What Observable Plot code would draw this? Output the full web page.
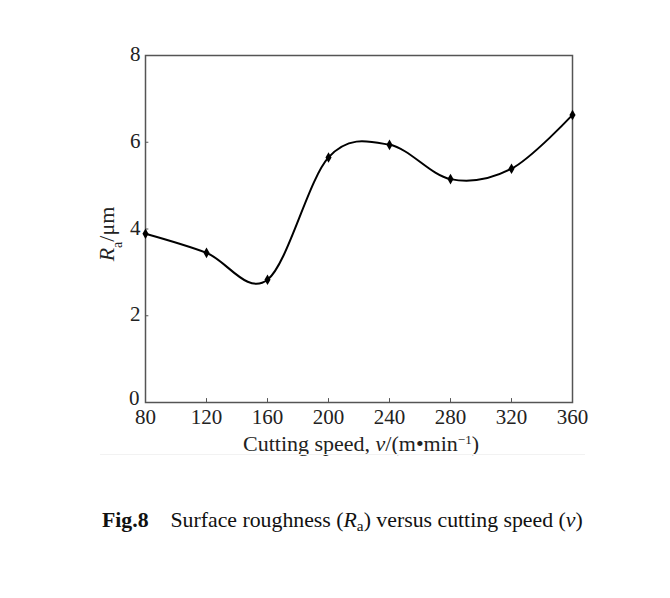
<!DOCTYPE html>
<html>
<head>
<meta charset="utf-8">
<script src="https://cdn.jsdelivr.net/npm/d3@7"></script>
<script src="https://cdn.jsdelivr.net/npm/@observablehq/plot@0.6"></script>
<style>
  html, body { margin: 0; padding: 0; background: #fff; width: 670px; height: 598px; overflow: hidden; }
  #wrap { position: relative; width: 670px; height: 598px; }
  #chart { position: absolute; left: 0; top: 0; }
  #sep { position: absolute; left: 100px; top: 454px; width: 485px; height: 1px; background: #f2f2f2; }
  #caption { position: absolute; left: 102px; top: 508px; font-family: "Liberation Serif", "Times New Roman", serif; font-size: 21.8px; color: #111; white-space: pre; }
  #caption sub { font-size: 0.7em; vertical-align: -0.25em; line-height: 0; }
</style>
</head>
<body>
<div id="wrap">
  <div id="chart"></div>
  <div id="sep"></div>
  <div id="caption"><b>Fig.8</b>    Surface roughness (<i>R</i><sub>a</sub>) versus cutting speed (<i>v</i>)</div>
</div>
<script>
const speeds = [80, 120, 160, 200, 240, 280, 320, 360];
const roughness = [3.89, 3.45, 2.83, 5.65, 5.94, 5.15, 5.39, 6.63];
const xTicks = [80, 120, 160, 200, 240, 280, 320, 360];
const yTicks = [0, 2, 4, 6, 8];

const data = speeds.map((v, i) => ({v, ra: roughness[i]}));

const font = '"Liberation Serif", "Times New Roman", serif';

const plot = Plot.plot({
  width: 670,
  height: 470,
  marginLeft: 145,
  marginRight: 98,
  marginTop: 55,
  marginBottom: 68,
  style: { fontFamily: font, fontSize: "21px", color: "#222", background: "transparent" },
  x: { domain: [80, 360] },
  y: { domain: [0, 8] },
  marks: [
    Plot.frame({ stroke: "#555", strokeWidth: 1.5 }),
    Plot.axisX({ ticks: xTicks, tickSize: 0, tickPadding: 7, label: null, fontSize: 21 }),
    Plot.axisY({ ticks: yTicks.slice(1), tickSize: 0, tickPadding: 5, label: null, fontSize: 21, dy: -1 }),
    Plot.axisY({ ticks: yTicks.slice(0, 1), tickSize: 0, tickPadding: 6, label: null, fontSize: 21, dy: -4 }),
    Plot.ruleX(xTicks.slice(1, -1), { y1: 0, y2: 0.09, stroke: "#555", strokeWidth: 1 }),
    Plot.ruleY(yTicks.slice(1, -1), { x1: 80, x2: 82.2, stroke: "#555", strokeWidth: 1 }),
    Plot.line(data, { x: "v", y: "ra", curve: "cardinal", stroke: "#000", strokeWidth: 2 }),
    Plot.dot(data, { x: "v", y: "ra", symbol: "diamond", r: 3.2, fill: "#000", stroke: "none" })
  ]
});

document.getElementById("chart").appendChild(plot);

const svg = d3.select(plot);
// x-axis title
const xl = svg.append("text")
  .attr("x", 361).attr("y", 451)
  .attr("text-anchor", "middle")
  .style("font-family", font).style("font-size", "22px").attr("fill", "#222");
xl.append("tspan").text("Cutting speed, ");
xl.append("tspan").style("font-style", "italic").text("v");
xl.append("tspan").text("/(m\u2022min");
xl.append("tspan").attr("baseline-shift", "super").style("font-size", "13px").text("\u22121");
xl.append("tspan").text(")");

// y-axis title
const yl = svg.append("text")
  .attr("transform", "translate(114,234) rotate(-90)")
  .attr("text-anchor", "middle")
  .style("font-family", font).style("font-size", "22px").attr("fill", "#222");
yl.append("tspan").style("font-style", "italic").text("R");
yl.append("tspan").attr("baseline-shift", "sub").style("font-size", "14px").text("a");
yl.append("tspan").text("/\u03bcm");
</script>
</body>
</html>
